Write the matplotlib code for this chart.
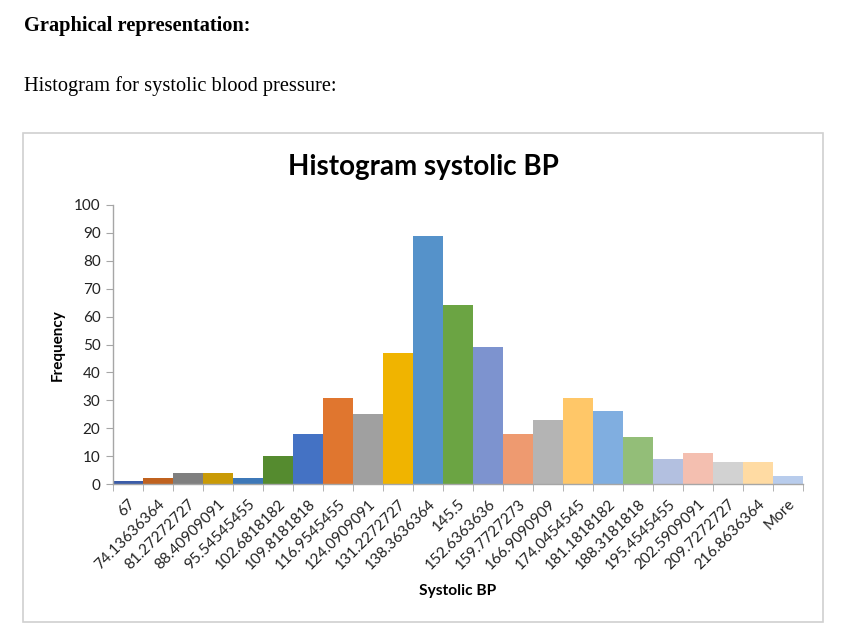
import matplotlib.pyplot as plt
import numpy as np
from matplotlib.patches import Rectangle

# bin labels and counts (Excel histogram output)
bins = ['67', '74.13636364', '81.27272727', '88.40909091', '95.54545455',
        '102.6818182', '109.8181818', '116.9545455', '124.0909091',
        '131.2272727', '138.3636364', '145.5', '152.6363636', '159.7727273',
        '166.9090909', '174.0454545', '181.1818182', '188.3181818',
        '195.4545455', '202.5909091', '209.7272727', '216.8636364', 'More']
freq = [1, 2, 4, 4, 2, 10, 18, 31, 25, 47, 89, 64, 49, 18, 23, 31, 26, 17,
        9, 11, 8, 8, 3]
colors = ['#3B5CA8', '#C0621F', '#7F7F7F', '#C99A06', '#3D78B8', '#558B2F',
          '#4472C4', '#E0762F', '#A0A0A0', '#F0B400', '#5592CA', '#6BA443',
          '#7D93CF', '#EE9A70', '#B4B4B4', '#FFC768', '#80AEE0', '#93BE78',
          '#B3C0E0', '#F4BFB0', '#D2D2D2', '#FFDBA3', '#B8CCEC']

W, H = 850, 639
fig = plt.figure(figsize=(8.5, 6.39), dpi=100)

# page text above the chart
fig.text(24 / W, 1 - 26 / H, 'Graphical representation:', family='Liberation Serif',
         weight='bold', fontsize=14.7, va='center', ha='left')
fig.text(24 / W, 1 - 86 / H, 'Histogram for systolic blood pressure:',
         family='Liberation Serif', fontsize=14.7, va='center', ha='left')

# chart frame
fig.patches.append(Rectangle((23 / W, 1 - 622 / H), 800 / W, 489 / H,
                             transform=fig.transFigure, fill=False,
                             edgecolor='#D0D0D0', linewidth=1.2))

ax = fig.add_axes([113 / W, 1 - 484 / H, 690 / W, 279 / H])
x = np.arange(len(freq))
ax.bar(x, freq, width=1.0, color=colors, edgecolor='none')
ax.set_xlim(-0.5, len(freq) - 0.5)
ax.set_ylim(0, 100)
ax.set_yticks(range(0, 101, 10))

for s in ['top', 'right']:
    ax.spines[s].set_visible(False)
for s in ['left', 'bottom']:
    ax.spines[s].set_color('#A6A6A6')
    ax.spines[s].set_linewidth(1)

ax.set_xticks(x)
ax.set_xticklabels(bins, rotation=45, ha='right', rotation_mode='anchor',
                   family='Lato', fontsize=11, color='#222222')
ax.set_xticks(np.arange(-0.5, len(freq)), minor=True)
ax.tick_params(axis='x', which='major', length=0, pad=9)
ax.tick_params(axis='x', which='minor', length=5, color='#A6A6A6')
ax.tick_params(axis='y', length=5, color='#A6A6A6', labelsize=11,
               labelcolor='#222222', pad=4)
for t in ax.get_yticklabels():
    t.set_family('Lato')

fig.text(423 / W, 1 - 167 / H, 'Histogram systolic BP', family='Lato',
         weight='bold', fontsize=20, ha='center', va='center')
fig.text(58 / W, 1 - 345 / H, 'Frequency', family='Lato', weight='bold',
         fontsize=11, rotation=90, ha='center', va='center')
fig.text(458 / W, 1 - 591 / H, 'Systolic BP', family='Lato', weight='bold',
         fontsize=11.2, ha='center', va='center')

fig.savefig('out.png', dpi=100)
